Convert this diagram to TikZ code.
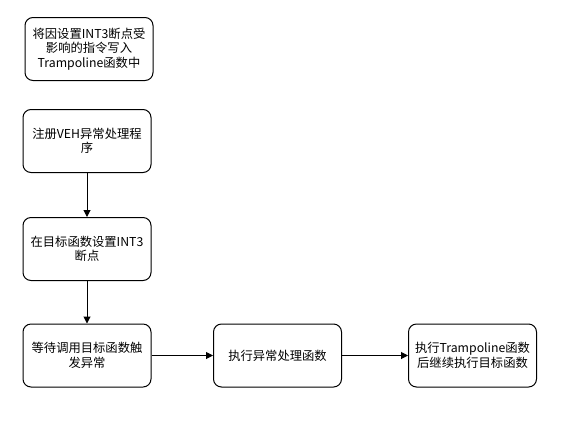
\documentclass[tikz,border=0pt]{standalone}
\usepackage{fontspec}
\setmainfont{Noto Sans CJK SC}
\usetikzlibrary{arrows.meta}
\begin{document}
\begin{tikzpicture}[x=1pt,y=-1pt,
  box/.style={draw=black,line width=1pt,rounded corners=8pt,fill=white,
    minimum width=128pt,minimum height=63pt,align=center,inner sep=2pt,
    font=\fontsize{12.3}{14.5}\selectfont},
  conn/.style={draw=black,line width=1pt,-{Triangle[length=7pt,width=7pt]}}]
\useasboundingbox (0,0) rectangle (564,421);
\node[box] (b1) at (89,49) {将因设置INT3断点受\\影响的指令写入\\Trampoline函数中};
\node[box] (b2) at (87,141) {注册VEH异常处理程\\序};
\node[box] (b3) at (87,249) {在目标函数设置INT3\\断点};
\node[box] (b4) at (87,355.5) {等待调用目标函数触\\发异常};
\node[box] (b5) at (277.5,355.5) {执行异常处理函数};
\node[box] (b6) at (472.5,355.5) {执行Trampoline函数\\后继续执行目标函数};
\draw[conn] (b2) -- (b3);
\draw[conn] (b3) -- (b4);
\draw[conn] (b4) -- (b5);
\draw[conn] (b5) -- (b6);
\end{tikzpicture}
\end{document}
